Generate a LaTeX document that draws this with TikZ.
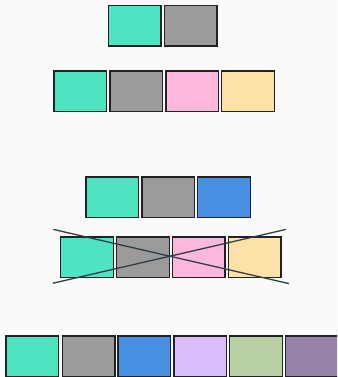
\documentclass[tikz,border=0pt]{standalone}
\usepackage{xcolor}
\definecolor{bg}{HTML}{FAFAFA}
\definecolor{cteal}{HTML}{50E3C2}
\definecolor{cgray}{HTML}{9B9B9B}
\definecolor{cpink}{HTML}{FBB8DB}
\definecolor{cyellow}{HTML}{FCE1A9}
\definecolor{cblue}{HTML}{4A90E2}
\definecolor{clav}{HTML}{DCBDFB}
\definecolor{cgreen}{HTML}{B9CFA4}
\definecolor{cpurple}{HTML}{9782A8}
\definecolor{cline}{HTML}{2D3E48}
\definecolor{cborder}{HTML}{222222}
\begin{document}
\begin{tikzpicture}[x=1pt,y=-1pt,
  cell/.style={draw=cborder,line width=1.4pt,minimum width=52.6pt,minimum height=40.6pt,inner sep=0pt,outer sep=0pt,anchor=north west},
  crossline/.style={draw=cline,line width=1.3pt}]
\fill[bg] (0,0) rectangle (337,377);
\useasboundingbox (0,0) rectangle (337,377);
\clip (0,0) rectangle (337,377);
% row 1
\node[cell,fill=cteal] (a1) at (108.2,5.5) {};
\node[cell,fill=cgray] (a2) at (164.2,5.5) {};
% row 2
\node[cell,fill=cteal] (b1) at (53.9,70.9) {};
\node[cell,fill=cgray] (b2) at (109.9,70.9) {};
\node[cell,fill=cpink] (b3) at (165.9,70.9) {};
\node[cell,fill=cyellow] (b4) at (221.6,70.9) {};
% row 3
\node[cell,fill=cteal] (c1) at (86,177) {};
\node[cell,fill=cgray] (c2) at (141.8,177) {};
\node[cell,fill=cblue] (c3) at (197.6,177) {};
% row 4
\node[cell,fill=cteal] (d1) at (60.7,237) {};
\node[cell,fill=cgray] (d2) at (116.7,237) {};
\node[cell,fill=cpink] (d3) at (172.5,237) {};
\node[cell,fill=cyellow] (d4) at (228.4,237) {};
\coordinate (x1) at (53.3,229.4);
\coordinate (x2) at (289,283.6);
\coordinate (x3) at (53,283.2);
\coordinate (x4) at (286,229.4);
\draw[crossline] (x1) -- (x2);
\draw[crossline] (x3) -- (x4);
% row 5
\node[cell,fill=cteal] (e1) at (6.1,336) {};
\node[cell,fill=cgray] (e2) at (62.4,336) {};
\node[cell,fill=cblue] (e3) at (118.1,336) {};
\node[cell,fill=clav] (e4) at (173.8,336) {};
\node[cell,fill=cgreen] (e5) at (229.7,336) {};
\node[cell,fill=cpurple] (e6) at (285.7,336) {};
\end{tikzpicture}
\end{document}
